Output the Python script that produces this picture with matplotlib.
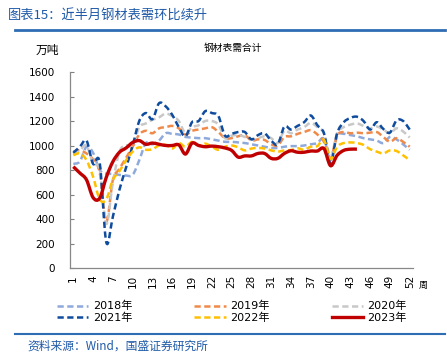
import matplotlib
matplotlib.use("Agg")
import matplotlib.pyplot as plt
from matplotlib.lines import Line2D
from matplotlib.path import Path
from matplotlib.patches import PathPatch

plt.rcParams['font.family'] = ['DejaVu Sans', 'Noto Sans CJK SC']

weeks = list(range(1, 53))
tick_weeks = list(range(1, 53, 3))

y2018 = [850, 870, 990, 940, 800, 770, 770, 760, 755, 760, 880, 1020, 1010, 1040, 1100, 1095,
         1090, 1070, 1065, 1060, 1060, 1050, 1040, 1030, 1030, 1025, 1020, 1010, 1000, 990, 980, 980,
         990, 995, 995, 1000, 1010, 1020, 1055, 880, 1080, 1095, 1085, 1075, 1060, 1050, 1040, 1020,
         1070, 1050, 1010, 965]
y2019 = [950, 960, 935, 885, 780, 380, 720, 810, 900, 990, 1090, 1120, 1100, 1140, 1150, 1160,
         1140, 1090, 1120, 1130, 1140, 1150, 1110, 1060, 1060, 1075, 1085, 1040, 1050, 1045, 1010, 1000,
         1070, 1075, 1095, 1110, 1125, 1090, 1030, 895, 1080, 1110, 1100, 1105, 1100, 1105, 1110, 1070,
         1030, 1060, 1030, 990]
y2020 = [930, 960, 1000, 850, 800, 360, 700, 950, 1000, 1000, 1150, 1180, 1210, 1230, 1260, 1240,
         1200, 1100, 1150, 1165, 1200, 1200, 1170, 1060, 1080, 1085, 1070, 1050, 1060, 1075, 1060, 1020,
         1120, 1100, 1130, 1150, 1185, 1150, 1100, 910, 1100, 1150, 1170, 1180, 1160, 1140, 1155, 1130,
         1100, 1140, 1115, 1065]
y2021 = [940, 990, 1040, 850, 860, 210, 420, 640, 820, 1000, 1200, 1265, 1215, 1345, 1320, 1250,
         1150, 1075, 1190, 1200, 1280, 1265, 1240, 1080, 1095, 1110, 1110, 1050, 1085, 1100, 1040, 1010,
         1155, 1130, 1160, 1190, 1245, 1165, 1100, 860, 1100, 1190, 1225, 1235, 1200, 1130, 1190, 1135,
         1105, 1205, 1200, 1130]
y2022 = [920, 935, 880, 745, 560, 560, 720, 790, 880, 950, 985, 965, 970, 1000, 1005, 975,
         1020, 990, 1030, 1000, 1015, 990, 965, 990, 1000, 985, 960, 975, 980, 975, 960, 950,
         960, 963, 977, 965, 990, 995, 1045, 890, 990, 1020, 1025, 1020, 1005, 970, 950, 935,
         960, 955, 920, 880]
y2023 = [827, 775, 720, 575, 570, 740, 868, 945, 980, 1025, 1040, 1010, 1020, 1010, 1000, 1000,
         1005, 930, 1020, 1000, 990, 995, 990, 980, 960, 905, 915, 915, 935, 935, 895, 895,
         935, 957, 945, 945, 955, 955, 975, 835, 920, 960, 970, 970]

series = [
    ("2018年", y2018, "#8EA9DB", "--", 1.8),
    ("2019年", y2019, "#F08A4B", "--", 1.8),
    ("2020年", y2020, "#C8C8C8", "--", 1.8),
    ("2021年", y2021, "#0F4C9E", "--", 1.8),
    ("2022年", y2022, "#FFC000", "--", 1.8),
    ("2023年", y2023, "#C00000", "-", 2.4),
]


def smooth_path(xs, ys):
    # Excel-style smoothed line: cubic Bezier through every data point
    pts = list(zip(xs, ys))
    n = len(pts)
    verts = [pts[0]]
    codes = [Path.MOVETO]
    for i in range(n - 1):
        p0 = pts[i - 1] if i > 0 else pts[i]
        p1 = pts[i]
        p2 = pts[i + 1]
        p3 = pts[i + 2] if i + 2 < n else pts[i + 1]
        c1 = (p1[0] + (p2[0] - p0[0]) / 6, p1[1] + (p2[1] - p0[1]) / 6)
        c2 = (p2[0] - (p3[0] - p1[0]) / 6, p2[1] - (p3[1] - p1[1]) / 6)
        verts += [c1, c2, p2]
        codes += [Path.CURVE4] * 3
    return Path(verts, codes)


fig = plt.figure(figsize=(4.47, 3.59), dpi=100)
ax = fig.add_axes([70/447, 1-268/359, (413-70)/447, (268-72)/359])

handles = {}
for name, vals, col, ls, lw in series:
    dashes = (2.5, 1.4) if ls == "--" else None
    patch = PathPatch(smooth_path(weeks[:len(vals)], vals), facecolor='none', edgecolor=col,
                      linewidth=lw, linestyle=(0, dashes) if dashes else '-',
                      capstyle='butt', joinstyle='round', zorder=3 if ls == "-" else 2)
    ax.add_patch(patch)
    h = Line2D([], [], color=col, linewidth=lw, linestyle=(0, dashes) if dashes else '-')
    handles[name] = h

ax.set_xlim(0.5, 52.5)
ax.set_ylim(0, 1600)
ax.set_yticks(range(0, 1601, 200))
ax.set_xticks(tick_weeks)
ax.set_xticklabels([str(w) for w in tick_weeks], rotation=90, fontsize=7.5)
ax.tick_params(axis='y', direction='in', length=3, labelsize=7.5, pad=11, color='#808080')
ax.tick_params(axis='x', length=0, pad=5)
for s in ['top', 'right']:
    ax.spines[s].set_visible(False)
for s in ['left', 'bottom']:
    ax.spines[s].set_color('#888888')
    ax.spines[s].set_linewidth(0.9)

blue = "#1F5AA8"
fig.text(8/447, 1-16/359, "图表15：近半月钢材表需环比续升", fontsize=9.5, color=blue,
         family=['Noto Sans CJK SC'], va='center', ha='left')
fig.add_artist(Line2D([15/447, 445/447], [1-30/359, 1-30/359], color="#2E6DB4", linewidth=2))
fig.text(47/447, 1-50/359, "万吨", fontsize=8.5, family=['Noto Sans CJK SC'], ha='center', va='center')
fig.text(233/447, 1-48/359, "钢材表需合计", fontsize=7, family=['Noto Sans CJK SC'], ha='center', va='center')
fig.text(423/447, 1-285/359, "周", fontsize=6.5, family=['Noto Sans CJK SC'], ha='center', va='center')

order = ["2018年", "2021年", "2019年", "2022年", "2020年", "2023年"]
fig.legend([handles[n] for n in order], order, ncol=3, loc='center',
           bbox_to_anchor=(232/447, 1-312/359), frameon=False, fontsize=8,
           handlelength=2.8, handletextpad=0.4, columnspacing=5.6, labelspacing=0.1)

fig.add_artist(Line2D([15/447, 445/447], [1-334/359, 1-334/359], color="#2E6DB4", linewidth=1.5))
fig.text(27/447, 1-346/359, "资料来源：Wind，国盛证券研究所", fontsize=8.5, color=blue,
         family=['Noto Sans CJK SC'], va='center', ha='left')

fig.savefig("out.png", dpi=100)
